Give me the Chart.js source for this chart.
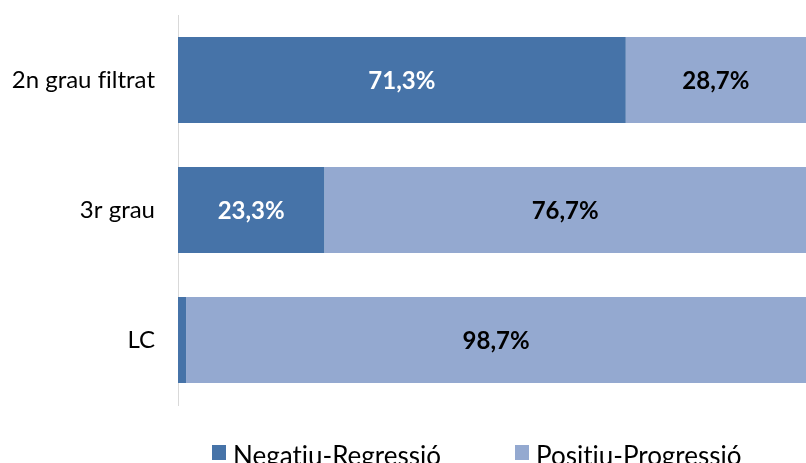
<!DOCTYPE html>
<html>
<head>
<meta charset="utf-8">
<script src="https://cdn.jsdelivr.net/npm/chart.js@4/dist/chart.umd.min.js"></script>
<style>
  html, body { margin: 0; padding: 0; background: #ffffff; }
  #wrap { width: 806px; height: 463px; position: relative; overflow: hidden; }
</style>
</head>
<body>
<div id="wrap"><canvas id="c" width="806" height="463"></canvas></div>
<script>
const categories = ["2n grau filtrat", "3r grau", "LC"];
const seriesNames = ["Negatiu-Regressió", "Positiu-Progressió"];
const negatiu = [71.3, 23.3, 1.3];
const positiu = [28.7, 76.7, 98.7];
const xTicks = [0, 100];

const colNeg = "#4673A8";
const colPos = "#94A9D0";
const FONT = "Lato";

const fmt = v => v.toFixed(1).replace(".", ",") + "%";

const noLigPlugin = {
  id: "noLig",
  beforeDraw(chart) {
    const ctx = chart.ctx;
    if ("textRendering" in ctx) ctx.textRendering = "optimizeSpeed";
  }
};

const labelPlugin = {
  id: "segLabels",
  afterDatasetsDraw(chart) {
    const ctx = chart.ctx;
    ctx.save();
    ctx.font = "bold 24px " + FONT;
    ctx.textAlign = "center";
    ctx.textBaseline = "middle";
    chart.data.datasets.forEach((ds, di) => {
      const meta = chart.getDatasetMeta(di);
      meta.data.forEach((el, i) => {
        const v = ds.data[i];
        if (v < 5) return;
        const p = el.getProps(["x", "y", "base"], true);
        const cx = (p.x + p.base) / 2;
        ctx.fillStyle = di === 0 ? "#ffffff" : "#000000";
        ctx.fillText(fmt(v), cx, p.y + 1);
      });
    });
    ctx.restore();
  }
};

const legendPlugin = {
  id: "bottomLegend",
  afterDraw(chart) {
    const ctx = chart.ctx;
    ctx.save();
    if ("textRendering" in ctx) ctx.textRendering = "optimizeSpeed";
    ctx.font = "26px " + FONT;
    ctx.textBaseline = "alphabetic";
    ctx.textAlign = "left";
    const starts = [212, 515];
    chart.data.datasets.forEach((ds, di) => {
      const x = starts[di];
      ctx.fillStyle = ds.backgroundColor;
      ctx.fillRect(x, 445, 14, 15);
      ctx.fillStyle = "#000000";
      ctx.fillText(ds.label, x + 21, 465);
    });
    ctx.restore();
  }
};

new Chart(document.getElementById("c"), {
  type: "bar",
  data: {
    labels: categories,
    datasets: [
      { label: seriesNames[0], data: negatiu, backgroundColor: colNeg, borderWidth: 0 },
      { label: seriesNames[1], data: positiu, backgroundColor: colPos, borderWidth: 0 }
    ]
  },
  options: {
    indexAxis: "y",
    responsive: false,
    animation: false,
    devicePixelRatio: 1,
    barPercentage: 0.66,
    categoryPercentage: 1,
    layout: { padding: { top: 15, bottom: 58, left: 0, right: 0 } },
    scales: {
      x: {
        stacked: true, min: xTicks[0], max: xTicks[1], display: false
      },
      y: {
        stacked: true,
        grid: { display: false, drawTicks: false },
        border: { display: true, color: "#D9D9D9", width: 1 },
        ticks: { color: "#000000", font: { family: FONT, size: 24 }, padding: 23 },
        afterFit(scale) {
          scale.width = 178;
          scale.paddingTop = 0;
          scale.paddingBottom = 0;
        }
      }
    },
    plugins: { legend: { display: false }, tooltip: { enabled: false } }
  },
  plugins: [noLigPlugin, labelPlugin, legendPlugin]
});
</script>
</body>
</html>
